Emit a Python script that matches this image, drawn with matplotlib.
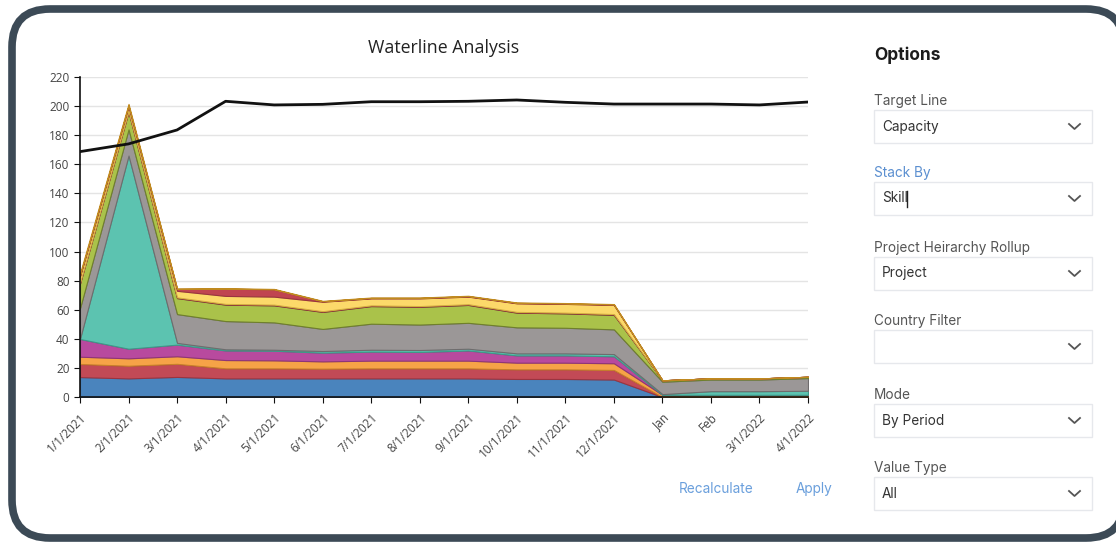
import numpy as np
import matplotlib
matplotlib.use("Agg")
import matplotlib.pyplot as plt
from matplotlib.patches import FancyBboxPatch

# periods on the x axis
periods = ["1/1/2021", "2/1/2021", "3/1/2021", "4/1/2021", "5/1/2021", "6/1/2021",
           "7/1/2021", "8/1/2021", "9/1/2021", "10/1/2021", "11/1/2021", "12/1/2021",
           "Jan", "Feb", "3/1/2022", "4/1/2022"]

# stacked layers, bottom to top (thickness of each layer)
skill_blue = [13.7, 12.8, 13.8, 12.8, 12.8, 12.8, 12.8, 12.8, 12.8, 12.4, 12.4, 12.0, 0, 0, 0, 0]
skill_red = [9.0, 8.7, 9.0, 6.9, 6.9, 6.7, 6.9, 6.9, 6.9, 6.6, 6.6, 6.6, 0, 0, 0, 0]
skill_orange = [5.0, 5.1, 5.2, 5.7, 5.5, 5.0, 5.3, 5.3, 5.3, 4.6, 4.6, 4.6, 1.5, 1.5, 1.5, 1.5]
skill_magenta = [12.2, 6.6, 8.0, 6.6, 6.6, 6.0, 6.2, 6.0, 7.0, 5.0, 5.0, 4.8, 0, 0, 0, 0]
skill_teal = [0.1, 132.8, 1.2, 0.8, 0.7, 1.1, 1.3, 1.3, 1.2, 1.4, 1.4, 1.5, 0.5, 2.5, 2.5, 2.8]
skill_gray = [21.0, 18.0, 19.8, 19.4, 18.8, 15.2, 17.9, 17.5, 17.8, 17.9, 17.6, 17.0, 8.5, 8.0, 8.0, 8.7]
skill_green = [17.0, 12.0, 11.0, 11.3, 11.7, 11.7, 12.1, 12.2, 12.3, 10.1, 9.9, 10.0, 1.0, 0.8, 0.8, 0.9]
skill_darkred = [0.5] * 12 + [0, 0, 0, 0]
skill_yellow = [4.5, 3.5, 4.5, 5.5, 5.5, 6.5, 4.8, 5.3, 5.2, 5.9, 6.0, 6.3, 0, 0, 0, 0]
skill_red2 = [0.5, 0.3, 1.3, 5.0, 5.0, 0.3, 0.3, 0.3, 0.3, 0.3, 0.3, 0.3, 0, 0, 0, 0]
skill_gold = [1.5, 1.2, 0.3, 0.3, 0.3, 0.3, 0.3, 0.3, 0.3, 0.3, 0.3, 0.3, 0, 0, 0, 0]

capacity = [168.7, 174.0, 183.6, 203.3, 200.8, 201.2, 203.0, 203.0, 203.3, 204.2,
            202.6, 201.4, 201.4, 201.4, 200.8, 202.8]

yticks = list(range(0, 221, 20))

layers = [skill_blue, skill_red, skill_orange, skill_magenta, skill_teal, skill_gray,
          skill_green, skill_darkred, skill_yellow, skill_red2, skill_gold]
fills = ["#4a84bd", "#c24a56", "#f6a347", "#b84a9e", "#5cc3b0", "#9b9797",
         "#aac24a", "#a83c48", "#fcd96a", "#c04450", "#e8ad35"]
edges = ["#3a6a9a", "#9a3440", "#c77f2a", "#8e3579", "#3d9a88", "#6f6c6d",
         "#6f7f2c", "#8a2e3a", "#d4b040", "#9a3440", "#c08a20"]

W, H = 1116, 542
fig = plt.figure(figsize=(W / 100, H / 100), dpi=100)

# background overlay in pixel coordinates
bg = fig.add_axes([0, 0, 1, 1], zorder=0)
bg.set_xlim(0, W)
bg.set_ylim(H, 0)
bg.axis("off")

frame = FancyBboxPatch((12, 9), 1112, 529, boxstyle="round,pad=0,rounding_size=38",
                       facecolor="white", edgecolor="#3c4a56", linewidth=5.5)
bg.add_patch(frame)

ui_font = "Inter"
bg.text(874, 55, "Options", fontsize=12.5, fontweight="bold", color="#1c1c1c",
        family=ui_font, va="center", ha="left")

fields = [("Target Line", 101, "Capacity", "#555555"),
          ("Stack By", 173, "Skill", "#5b8fd0"),
          ("Project Heirarchy Rollup", 248, "Project", "#555555"),
          ("Country Filter", 321, "", "#555555"),
          ("Mode", 395, "By Period", "#555555"),
          ("Value Type", 468, "All", "#555555")]
for label, ly, value, lcol in fields:
    bg.text(874, ly, label, fontsize=9.8, color=lcol, family=ui_font, va="center", ha="left")
    top = ly + 9
    box = FancyBboxPatch((874, top), 218, 33, boxstyle="square,pad=0",
                         facecolor="white", edgecolor="#e6e8ec", linewidth=1)
    bg.add_patch(box)
    cy = top + 16.5
    if value:
        bg.text(882, cy, value, fontsize=9.8, color="#333333", family=ui_font,
                va="center", ha="left")
    if value == "Skill":
        bg.plot([907, 907], [cy - 8, cy + 8], color="#222222", lw=1)
    bg.plot([1069, 1074.5, 1080], [cy - 2.5, cy + 2.5, cy - 2.5], color="#555555", lw=1.3)

bg.text(716, 489, "Recalculate", fontsize=9.8, color="#6a9fdc", family=ui_font,
        va="center", ha="center")
bg.text(814, 489, "Apply", fontsize=9.8, color="#6a9fdc", family=ui_font,
        va="center", ha="center")

# chart
ax = fig.add_axes([80 / W, (H - 397) / H, 728 / W, 320 / H], zorder=1)
ax.patch.set_alpha(0)
x = np.arange(len(periods))
base = np.zeros(len(periods))
for vals, fc, ec in zip(layers, fills, edges):
    top = base + np.array(vals)
    ax.fill_between(x, base, top, facecolor=fc, edgecolor=ec, linewidth=0.8, zorder=2)
    base = top
ax.plot(x, capacity, color="#111111", linewidth=2, zorder=3)

ax.set_xlim(0, len(periods) - 1)
ax.set_ylim(0, 220)
ax.set_yticks(yticks)
ax.set_xticks(x)
ax.set_xticklabels(periods, rotation=45, ha="right", va="top", rotation_mode="anchor")
ax.grid(axis="y", color="#e4e4e4", linewidth=1, zorder=0)
ax.set_axisbelow(True)
for s in ["top", "right"]:
    ax.spines[s].set_visible(False)
for s in ["left", "bottom"]:
    ax.spines[s].set_color("#111111")
    ax.spines[s].set_linewidth(1.2)
ax.tick_params(axis="both", length=4, color="#111111", labelsize=8.5, labelcolor="#444444")
ax.tick_params(axis="x", pad=6)
for lbl in ax.get_xticklabels() + ax.get_yticklabels():
    lbl.set_family("Open Sans")

fig.text(444 / W, 1 - 48 / H, "Waterline Analysis", fontsize=12.8, color="#222222",
         family="Open Sans", ha="center", va="center")

fig.savefig("out.png", dpi=100)
